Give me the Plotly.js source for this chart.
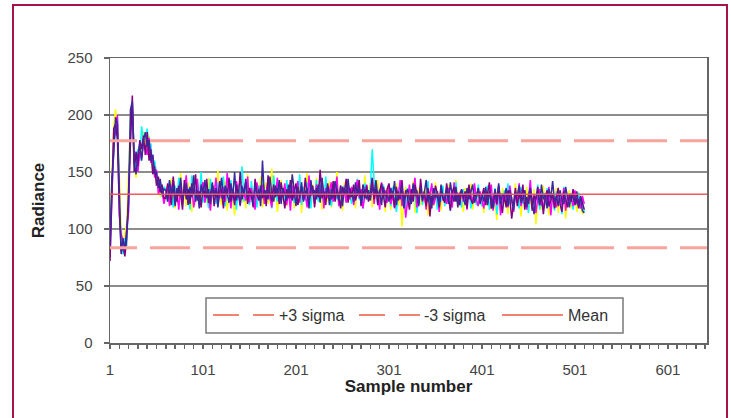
<!DOCTYPE html>
<html><head><meta charset="utf-8">
<script src="https://cdn.plot.ly/plotly-3.0.1.min.js"></script>
<style>
html,body{margin:0;padding:0;background:#fff;overflow:hidden;}
#chart{position:absolute;left:0;top:0;width:731px;height:418px;}
#frame{position:absolute;left:12px;top:4px;width:712px;height:500px;border:2px solid #a8124c;pointer-events:none;}
</style></head><body>
<div id="chart"></div><div id="frame"></div>
<script>
// ---- data ----
const firstSample = 1;
const sampleStep = 2;
const lastCategory = 643;
const seriesColors = ['#FFFF00', '#00FFFF', '#FF00FF', '#800080', '#3b2a99'];
const seriesA = [
100,150,190,205,185,150,100,88,95,105,
160,200,195,155,145,160,172,168,185,178,
170,182,162,150,158,140,145,128,138,125,
126,139,121,144,131,118,136,127,149,122,
133,120,141,129,115,137,146,125,134,119,
140,128,123,145,117,132,138,124,151,130,
121,135,142,116,129,140,126,112,137,131,
144,123,136,118,148,127,133,121,139,125,
130,146,119,134,141,122,128,153,124,137,
115,132,143,126,138,120,135,129,147,118,
133,125,140,114,136,128,149,123,131,139,
121,145,127,134,117,138,130,124,142,119,
136,128,150,122,133,116,141,126,139,131,
124,137,118,144,129,135,121,147,127,132,
140,119,134,126,143,123,130,138,115,136,
128,117,135,124,140,120,131,102,126,137,
119,133,125,142,114,129,136,121,130,123,
138,112,127,134,120,141,125,131,116,135,
122,130,139,118,128,124,143,119,133,127,
115,136,123,130,140,117,129,125,134,121,
126,114,133,120,138,117,129,123,108,131,
119,136,122,127,113,134,125,118,140,121,
129,111,132,124,137,116,126,120,135,104,
123,130,117,138,121,127,112,133,125,119,
136,114,128,122,131,109,126,134,118,124,
130,115,127,121,113,118];
const seriesB = [
90,140,170,190,198,128,84,78,92,85,
130,195,205,170,150,170,160,190,178,180,
188,170,175,152,160,148,135,142,128,137,
135,124,142,130,119,138,127,145,133,121,
140,128,136,117,147,131,124,139,126,150,
123,137,131,118,144,128,135,122,141,127,
133,146,120,136,129,143,125,132,117,139,
128,155,124,137,130,121,142,127,134,119,
138,126,145,132,122,136,129,118,147,131,
124,140,127,135,120,143,130,126,138,123,
134,129,148,121,137,125,141,132,118,136,
127,143,124,139,130,122,146,128,135,120,
133,141,126,131,119,132,138,125,134,129,
122,137,129,144,126,133,118,140,131,127,
136,170,142,130,121,135,128,139,123,132,
131,120,137,126,115,133,140,124,129,118,
136,127,122,139,130,114,128,135,121,133,
125,142,119,131,127,136,117,130,124,138,
120,129,134,116,132,126,141,123,128,119,
135,122,130,137,118,127,133,121,139,126,
120,132,125,138,117,129,123,136,113,127,
131,119,134,124,140,121,128,115,133,126,
118,137,122,130,125,114,135,120,129,124,
139,117,127,132,121,136,119,125,130,116,
133,123,128,113,137,124,120,131,126,117,
128,121,132,118,125,115];
const seriesC = [
75,120,178,185,200,112,95,90,80,98,
115,185,210,160,165,150,168,162,175,172,
165,180,158,165,145,152,130,138,133,122,
129,138,120,135,143,126,131,117,140,124,
134,147,122,130,137,119,128,144,125,136,
141,123,133,128,116,139,131,145,121,134,
127,137,124,149,130,118,135,126,142,129,
120,138,132,125,146,123,136,128,117,141,
131,126,139,122,135,143,127,119,137,130,
145,124,133,128,140,121,134,116,138,127,
132,142,123,137,126,130,119,147,129,135,
122,139,131,125,144,118,136,127,133,141,
124,130,146,120,138,128,134,123,140,126,
137,121,132,143,127,135,118,131,139,125,
129,144,122,136,130,117,141,127,134,123,
137,122,130,118,134,127,143,120,131,110,
126,139,123,132,145,119,128,136,124,131,
117,135,129,140,121,127,133,115,138,125,
130,122,136,128,119,141,126,132,121,134,
124,131,117,137,129,123,140,126,120,133,
125,118,134,122,130,139,116,127,121,136,
112,129,124,133,119,138,126,115,131,123,
140,120,128,134,117,126,143,121,130,114,
127,135,122,118,131,125,137,112,129,123,
119,133,127,121,136,116,130,124,128,120,
134,122,126,118,129,122];
const seriesD = [
72,135,188,192,178,118,80,85,76,92,
140,178,217,150,168,155,178,170,182,165,
185,160,170,148,155,138,146,132,139,127,
127,140,133,121,146,129,124,138,131,117,
143,126,135,122,140,130,148,125,133,119,
137,128,144,123,131,139,120,135,127,142,
132,118,137,129,145,124,134,121,139,128,
150,126,133,141,122,136,129,119,144,131,
125,138,127,134,120,147,132,124,139,128,
136,122,141,130,118,135,127,143,125,133,
140,121,131,137,126,145,129,123,134,138,
119,136,128,152,127,133,121,140,130,126,
142,124,135,129,118,137,131,144,123,136,
128,139,125,132,143,120,134,127,138,124,
131,145,126,137,121,133,140,128,119,135,
140,126,132,119,137,125,130,143,121,134,
128,117,135,124,139,130,122,144,127,133,
120,136,111,129,125,138,131,119,134,127,
123,140,128,116,132,137,124,130,121,135,
127,133,118,139,126,122,131,128,136,124,
129,136,121,131,141,118,126,133,122,138,
125,114,130,119,134,127,109,124,136,120,
131,125,139,117,128,122,133,116,129,126,
137,121,130,113,127,134,120,125,131,118,
128,136,122,115,133,126,119,130,124,135,
121,127,118,129,123,117];
const seriesE = [
85,145,165,198,192,140,78,92,82,100,
122,205,212,158,148,165,175,160,178,185,
172,178,160,165,148,150,136,144,130,135,
134,124,143,131,138,120,136,129,145,126,
132,140,121,137,128,147,124,134,118,139,
130,143,127,135,122,141,129,136,119,133,
145,126,138,131,123,140,128,150,125,134,
121,137,130,144,127,131,132,122,139,129,
135,120,160,128,134,126,146,131,124,138,
129,143,122,136,130,125,139,127,148,133,
120,137,128,141,124,132,136,118,143,130,
134,126,139,123,145,129,131,137,121,135,
127,142,133,125,138,120,136,130,144,128,
132,124,141,129,136,122,139,131,126,134,
125,138,130,143,128,134,121,137,129,131,
124,136,129,142,121,133,126,138,118,131,
135,127,122,140,129,134,120,137,125,132,
143,124,130,118,136,127,133,121,139,128,
126,135,122,141,130,124,137,119,131,134,
128,121,136,126,132,139,123,129,135,122,
130,124,137,121,133,127,118,135,126,140,
122,131,128,136,120,134,125,117,132,129,
138,123,127,134,119,130,136,124,113,128,
133,121,139,126,131,118,135,127,142,124,
129,120,134,125,122,137,128,119,131,126,
123,133,121,128,116,114];
const allSeries = [seriesA, seriesB, seriesC, seriesD, seriesE];
const statNames = ['+3 sigma', '-3 sigma', 'Mean'];
const statValues = [177.5, 83.5, 130.5];
const xTickValues = [1, 101, 201, 301, 401, 501, 601];
const xTickLabels = ['1', '101', '201', '301', '401', '501', '601'];
const yTickValues = [0, 50, 100, 150, 200, 250];

// ---- traces ----
const traces = [];
allSeries.forEach((ys, i) => {
  traces.push({
    type: 'scatter', mode: 'lines', y: ys, x0: firstSample, dx: sampleStep,
    line: {color: seriesColors[i], width: 1.5}, showlegend: false, hoverinfo: 'skip'
  });
});
// dash pattern whose first dash is partly clipped, as in the reference
const sigmaDash = '27px,13px,' + new Array(12).fill('40px,13px').join(',');
const statStyles = [
  {color: '#f7a59c', width: 3, dash: sigmaDash},
  {color: '#f7a59c', width: 3, dash: sigmaDash},
  {color: '#ef5a62', width: 1.5, dash: 'solid'}
];
statValues.forEach((v, i) => {
  traces.push({
    type: 'scatter', mode: 'lines', name: statNames[i],
    x: [firstSample, lastCategory], y: [v, v],
    line: statStyles[i], showlegend: false, hoverinfo: 'skip'
  });
});

// ---- custom legend (pixel -> paper helpers) ----
const L = 110, R = 707, T = 58, B = 343;
const px = x => (x - L) / (R - L);
const py = y => (B - y) / (B - T);
const legendY = 315;
const legendItems = [
  {x0: 213, x1: 274, tx: 278, color: '#f2846f', dash: '26px,14px'},
  {x0: 359, x1: 420, tx: 423, color: '#f2846f', dash: '26px,14px'},
  {x0: 502, x1: 563, tx: 567, color: '#f2846f', dash: 'solid'}
];
const shapes = [{
  type: 'rect', xref: 'paper', yref: 'paper',
  x0: px(206), x1: px(623), y0: py(333), y1: py(298),
  line: {color: '#7a7a7a', width: 1.5}, fillcolor: '#ffffff', layer: 'above'
}];
const annotations = [];
legendItems.forEach((it, i) => {
  shapes.push({
    type: 'line', xref: 'paper', yref: 'paper',
    x0: px(it.x0), x1: px(it.x1), y0: py(legendY), y1: py(legendY),
    line: {color: it.color, width: 2, dash: it.dash}, layer: 'above'
  });
  annotations.push({
    xref: 'paper', yref: 'paper', x: px(it.tx), y: py(legendY),
    xanchor: 'left', yanchor: 'middle', showarrow: false, text: statNames[i],
    font: {family: 'Liberation Sans, Arial, sans-serif', size: 16, color: '#333'},
    borderpad: 0
  });
});

const font = {family: 'Liberation Sans, Arial, sans-serif', size: 15, color: '#444'};
const layout = {
  width: 731, height: 418,
  margin: {l: L, r: 731 - R, t: T, b: 418 - B},
  paper_bgcolor: 'rgba(0,0,0,0)', plot_bgcolor: '#ffffff',
  font: font,
  showlegend: false,
  xaxis: {
    range: [firstSample, lastCategory], tickmode: 'array',
    tickvals: xTickValues, ticktext: xTickLabels,
    ticks: 'outside', ticklen: 4, tickwidth: 1.5, tickcolor: '#666',
    minor: {dtick: 10, tick0: 1, ticks: 'outside', ticklen: 4, tickwidth: 1.5, tickcolor: '#666', showgrid: false},
    showgrid: false, zeroline: false,
    showline: true, linecolor: '#666', linewidth: 1.5, mirror: true,
    ticklabelstandoff: 8,
    tickfont: font,
    title: {text: 'Sample number', standoff: 0,
      font: {family: 'Liberation Sans, Arial, sans-serif', size: 17, color: '#222', weight: 'bold'}},
    automargin: false
  },
  yaxis: {
    range: [0, 250], tickmode: 'array', tickvals: yTickValues,
    ticks: 'outside', ticklen: 5, tickwidth: 1.5, tickcolor: '#666',
    showgrid: true, gridcolor: '#8c8c8c', gridwidth: 1.5, zeroline: false,
    showline: true, linecolor: '#666', linewidth: 1.5, mirror: true,
    ticklabelstandoff: 8,
    tickfont: font,
    title: {text: 'Radiance', standoff: 18,
      font: {family: 'Liberation Sans, Arial, sans-serif', size: 17, color: '#222', weight: 'bold'}},
    automargin: false
  },
  shapes: shapes,
  annotations: annotations
};
Plotly.newPlot('chart', traces, layout, {displayModeBar: false, staticPlot: true});
</script>
</body></html>
